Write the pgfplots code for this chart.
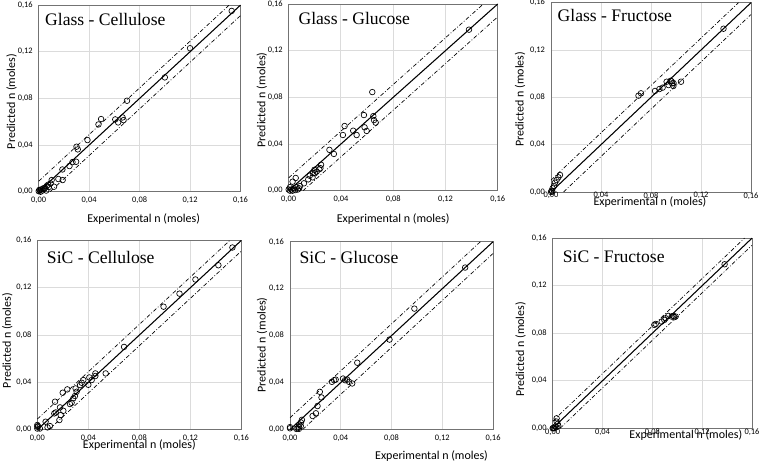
\documentclass[border=0pt]{standalone}
\usepackage{pgfplots}
\pgfplotsset{compat=1.18}
\usepackage{fontspec}
\setmainfont{Carlito}
\newfontfamily\timesfont{Liberation Serif}
\pgfplotsset{
  panel/.style={
    scale only axis, anchor=south west,
    xmin=0, xmax=0.16, ymin=0, ymax=0.16,
    xtick={0,0.04,0.08,0.12,0.16}, ytick={0,0.04,0.08,0.12,0.16},
    scaled ticks=false,
    grid=major, major grid style={draw=black!14, line width=0.7pt},
    axis line style={draw=black!55, line width=0.6pt},
    tick style={draw=none},
    tick label style={font=\fontsize{6.3}{7}\selectfont},
    yticklabel style={xshift=-1pt},
    /pgf/number format/fixed, /pgf/number format/fixed zerofill,
    /pgf/number format/precision=2, /pgf/number format/use comma,
    /pgf/number format/assume math mode=true,
    label style={font=\fontsize{9}{10}\selectfont},
    xlabel={Experimental n (moles)}, ylabel={Predicted n (moles)},
    clip=false,
  },
  pts/.style={only marks, mark=o, mark size=2.1pt, mark options={draw=black, line width=0.5pt}},
  diag/.style={black, line width=0.8pt, no marks},
  band/.style={black, line width=0.5pt, no marks, dash pattern=on 3pt off 1.5pt on 0.6pt off 1.5pt},
}
\newcommand{\ttl}[3]{\node[anchor=west, inner sep=0pt, font=\timesfont\fontsize{13.2}{14}\selectfont] at (rel axis cs:#1,#2) {#3};}
\begin{document}
\begin{tikzpicture}
\path[use as bounding box] (0pt,0pt) rectangle (570pt,346.5pt);
% Panel 1: Glass - Cellulose
\begin{axis}[panel, at={(29.0pt,202.7pt)}, width=151.4pt, height=140pt,
  xticklabel style={yshift=-0.5pt},
  xlabel style={at={(axis description cs:0.52,-0.148)}, anchor=center},
  ylabel style={at={(axis description cs:-0.134,0.482)}, anchor=center}]
\addplot[diag] coordinates {(0,0) (0.16,0.16)};
\addplot[band] coordinates {(0,0.009) (0.151,0.16)};
\addplot[band] coordinates {(0.009,0) (0.16,0.151)};
\addplot[pts] coordinates {(0.153,0.155) (0.120,0.123) (0.100,0.098) (0.070,0.078) (0.0495,0.0623) (0.0474,0.0577) (0.0607,0.062) (0.063,0.0594) (0.0665,0.0637) (0.0673,0.0614) (0.0387,0.0443) (0.030,0.0386) (0.031,0.0363) (0.0297,0.0257) (0.0268,0.0254) (0.0244,0.022) (0.0188,0.0191) (0.0156,0.0109) (0.019,0.010) (0.0103,0.010) (0.0122,0.0043) (0.0095,0.0071) (0.0064,0.0049) (0.0037,0.0029) (0.001,0.0014) (0.0,0.0005) (0.0005,0.0015) (0.002,0.002) (0.005,0.0035) (0.008,0.004) (0.0015,0.0) (0.003,0.001) (0.006,0.001) (0.0045,0.0025) (0.0075,0.006)};
\ttl{0.031}{0.925}{Glass - Cellulose}
\end{axis}
% Panel 2: Glass - Glucose
\begin{axis}[panel, at={(216.5pt,203.5pt)}, width=156.8pt, height=140pt,
  xticklabel style={yshift=-0.5pt},
  xlabel style={at={(axis description cs:0.5,-0.153)}, anchor=center},
  ylabel style={at={(axis description cs:-0.129,0.486)}, anchor=center}]
\addplot[diag] coordinates {(0,0) (0.16,0.16)};
\addplot[band] coordinates {(0,0.011) (0.149,0.16)};
\addplot[band] coordinates {(0.011,0) (0.16,0.149)};
\addplot[pts] coordinates {(0.138,0.138) (0.064,0.0845) (0.0576,0.0648) (0.0648,0.0639) (0.0653,0.0605) (0.0666,0.0583) (0.0581,0.0543) (0.0597,0.0512) (0.0428,0.0554) (0.0415,0.0477) (0.0494,0.0514) (0.052,0.0477) (0.0312,0.035) (0.0346,0.0315) (0.0248,0.0222) (0.0243,0.0193) (0.0197,0.0179) (0.0187,0.015) (0.0161,0.0128) (0.0054,0.0109) (0.003,0.0077) (0.0087,0.004) (0.0117,0.0063) (0.015,0.0097) (0.0183,0.0114) (0.020,0.0149) (0.0234,0.0183) (0.0214,0.0163) (0,0.001) (0.001,0) (0.002,0.001) (0.003,0.0) (0.004,0.002) (0.005,0.0005) (0.007,0.001) (0.001,0.003) (0.006,0.003) (0.008,0.002)};
\ttl{0.046}{0.923}{Glass - Glucose}
\end{axis}
% Panel 3: Glass - Fructose
\begin{axis}[panel, at={(413.25pt,202.5pt)}, width=150pt, height=142pt,
  xticklabel style={yshift=3.2pt},
  xlabel style={at={(axis description cs:0.495,-0.052)}, anchor=center},
  ylabel style={at={(axis description cs:-0.155,0.49)}, anchor=center}]
\addplot[diag] coordinates {(0,0) (0.16,0.16)};
\addplot[band] coordinates {(0,0.01) (0.15,0.16)};
\addplot[band] coordinates {(0.01,0) (0.16,0.15)};
\addplot[pts] coordinates {(0.138,0.138) (0.070,0.0814) (0.072,0.0834) (0.0832,0.0854) (0.0867,0.087) (0.0893,0.0882) (0.0925,0.0932) (0.094,0.0904) (0.0957,0.094) (0.0968,0.0918) (0.0979,0.0896) (0.104,0.0932) (0.0965,0.0935) (0.098,0.092) (0.0072,0.0144) (0.0059,0.0124) (0.0045,0.0101) (0.0032,0.0079) (0.0024,0.0051) (0.0013,0.0031) (0.0005,0.0011) (0.0,0.0) (0.001,0.0005)};
\ttl{0.032}{0.931}{Glass - Fructose}
\end{axis}
% Panel 4: SiC - Cellulose
\begin{axis}[panel, at={(28pt,24.2pt)}, width=153pt, height=142pt,
  xticklabel style={yshift=-0.5pt},
  xlabel style={at={(axis description cs:0.5,-0.08)}, anchor=center},
  ylabel style={at={(axis description cs:-0.147,0.47)}, anchor=center}]
\addplot[diag] coordinates {(0,0) (0.16,0.16)};
\addplot[band] coordinates {(0,0.009) (0.151,0.16)};
\addplot[band] coordinates {(0.009,0) (0.16,0.151)};
\addplot[pts] coordinates {(0.153,0.154) (0.142,0.139) (0.124,0.127) (0.1115,0.115) (0.099,0.104) (0.068,0.070) (0.0536,0.0476) (0.0455,0.0476) (0.0455,0.0454) (0.0408,0.0442) (0.0426,0.042) (0.0361,0.042) (0.0348,0.0397) (0.0335,0.0377) (0.030,0.0349) (0.0235,0.0341) (0.0199,0.0313) (0.0308,0.0321) (0.0295,0.0285) (0.0282,0.0265) (0.0269,0.0228) (0.0256,0.0217) (0.0139,0.0237) (0.0178,0.0189) (0.0144,0.0146) (0.0133,0.0138) (0.0204,0.016) (0.0183,0.0124) (0.0173,0.0082) (0.0065,0.0068) (0.0099,0.0031) (0.008,0.002) (0,0.004) (0,0.0025) (0,0.001) (0.0005,0.003) (0.002,0.001) (0.040,0.038)};
\ttl{0.046}{0.912}{SiC - Cellulose}
\end{axis}
% Panel 5: SiC - Glucose
\begin{axis}[panel, at={(217.5pt,24.4pt)}, width=152.3pt, height=140.8pt,
  xticklabel style={yshift=-0.5pt},
  xlabel style={at={(axis description cs:0.697,-0.141)}, anchor=center},
  ylabel style={at={(axis description cs:-0.138,0.45)}, anchor=center}]
\addplot[diag] coordinates {(0,0) (0.16,0.16)};
\addplot[band] coordinates {(0,0.01) (0.15,0.16)};
\addplot[band] coordinates {(0.01,0) (0.16,0.15)};
\addplot[pts] coordinates {(0.138,0.138) (0.098,0.103) (0.0784,0.0766) (0.053,0.0569) (0.033,0.0406) (0.0348,0.042) (0.036,0.0425) (0.0418,0.0434) (0.0434,0.042) (0.045,0.0425) (0.0465,0.0406) (0.049,0.0392) (0.0235,0.0321) (0.0248,0.0273) (0.0217,0.020) (0.0204,0.0138) (0.0178,0.0115) (0.0094,0.0082) (0.0086,0.006) (0.0073,0.004) (0.0068,0.0023) (0.006,0.001) (0.005,0.0005) (0,0.002) (0,0.001) (0.007,0.0005) (0.0085,0.003)};
\ttl{0.046}{0.918}{SiC - Glucose}
\end{axis}
% Panel 6: SiC - Fructose
\begin{axis}[panel, at={(414.5pt,25.3pt)}, width=149.5pt, height=142.6pt,
  xticklabel style={yshift=2.8pt},
  xlabel style={at={(axis description cs:0.668,-0.036)}, anchor=center},
  ylabel style={at={(axis description cs:-0.161,0.415)}, anchor=center}]
\addplot[diag] coordinates {(0,0) (0.16,0.16)};
\addplot[band] coordinates {(0,0.006) (0.154,0.16)};
\addplot[band] coordinates {(0.006,0) (0.16,0.154)};
\addplot[pts] coordinates {(0.138,0.138) (0.0816,0.087) (0.0827,0.0878) (0.0875,0.0898) (0.0896,0.0912) (0.0907,0.0926) (0.0928,0.0946) (0.0955,0.094) (0.0976,0.0935) (0.0968,0.0946) (0.0987,0.094) (0.0032,0.0084) (0.0032,0.0056) (0.004,0.0036) (0.0019,0.0014) (0.0005,0.0003) (0.0045,0.002) (0.003,0.001) (0.0,0.0) (0.001,0.0)};
\ttl{0.05}{0.90}{SiC - Fructose}
\end{axis}
\end{tikzpicture}
\end{document}
